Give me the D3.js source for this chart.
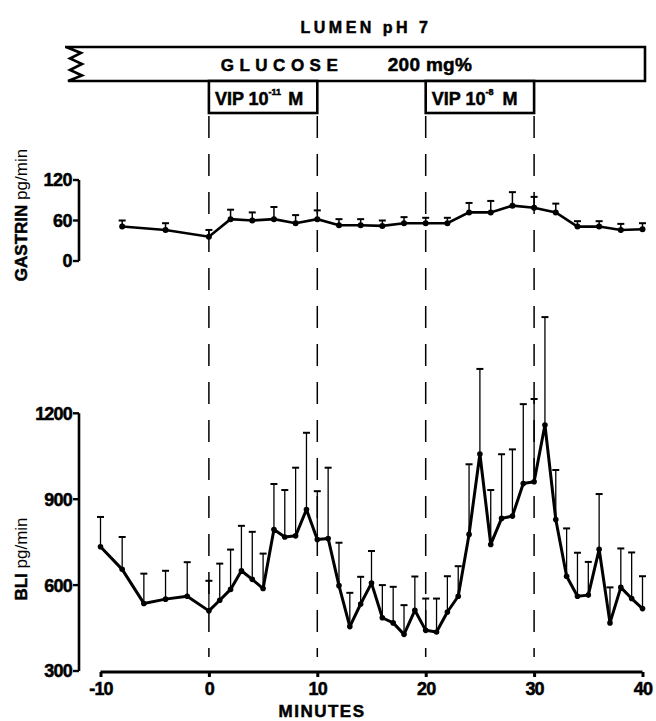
<!DOCTYPE html>
<html><head><meta charset="utf-8">
<script src="https://cdn.jsdelivr.net/npm/d3@7"></script>
<style>
html,body{margin:0;padding:0;background:#fff;}
svg{display:block;font-family:"Liberation Sans",Arial,sans-serif;}
.bold{font-weight:bold;stroke:#000;stroke-width:0.5px;}
</style></head>
<body>
<svg id="c" width="656" height="721"></svg>
<script>
// ---- data ----
const gastrinMinutes = [-8,-4,0,2,4,6,8,10,12,14,16,18,20,22,24,26,28,30,32,34,36,38,40];
const gastrinMean    = [51,46,36,62,60,62,56,62,53,53,52,56,56,56,72,72,82,79,72,51,51,46,47];
const gastrinSEM     = [9,10,10,14,12,18,12,13,9,9,8,9,8,8,14,17,20,16,13,8,8,9,9];

const bliMinutes = [-10,-8,-6,-4,-2,0,1,2,3,4,5,6,7,8,9,10,11,12,13,14,15,16,17,18,19,20,21,22,23,24,25,26,27,28,29,30,31,32,33,34,35,36,37,38,39,40];
const bliMean = [734,655,536,551,561,510,547,585,650,620,588,794,768,772,864,759,763,598,455,534,607,486,468,428,512,442,436,506,561,777,1058,742,833,841,955,961,1159,829,631,561,565,725,468,592,553,518];
const bliSEM  = [104,113,104,99,119,105,128,139,157,166,122,159,164,238,268,169,247,150,118,95,112,114,126,102,118,111,117,125,105,245,297,190,224,233,277,289,377,173,167,152,116,193,124,136,161,113];

const xTicks = [-10,0,10,20,30,40];
const bliTicks = [300,600,900,1200];
const gastrinTicks = [0,60,120];
const vipPeriods = [{start:0,end:10,exp:"-11"},{start:20,end:30,exp:"-8"}];
const markerMinutes = [0,10,20,30];

// ---- scales ----
const svg = d3.select("#c");
const x = d3.scaleLinear().domain([-10,40]).range([100.5,642.5]);
const yB = d3.scaleLinear().domain([300,1200]).range([671,413.3]);
const yG = d3.scaleLinear().domain([0,120]).range([261,180]);
const axisX = 79;

// ---- header ----
svg.append("text").attr("class","bold").attr("x",366).attr("y",33).attr("text-anchor","middle")
  .attr("font-size",16).attr("letter-spacing",3.5).text("LUMEN pH 7");

const barTop = 47, barBot = 81, barRight = 645;
svg.append("path")
  .attr("d",`M65,${barTop} L${barRight},${barTop} L${barRight},${barBot} L68,${barBot} L82,75.5 L70,70 L82,64 L70,58.5 L81,53 L66,${barTop}`)
  .attr("fill","none").attr("stroke","#000").attr("stroke-width",2.6).attr("stroke-linejoin","miter");
svg.append("text").attr("class","bold").attr("x",282).attr("y",70.5).attr("text-anchor","middle")
  .attr("font-size",17).attr("letter-spacing",5.5).text("GLUCOSE");
svg.append("text").attr("class","bold").attr("x",430).attr("y",70.5).attr("text-anchor","middle")
  .attr("font-size",19).attr("letter-spacing",0.3).text("200 mg%");

vipPeriods.forEach(p=>{
  const x0 = x(p.start), x1 = x(p.end);
  svg.append("rect").attr("x",x0).attr("y",barBot).attr("width",x1-x0).attr("height",32)
    .attr("fill","#fff").attr("stroke","#000").attr("stroke-width",2.6);
  const t = svg.append("text").attr("class","bold").attr("x",x0+6).attr("y",105).attr("font-size",18);
  t.append("tspan").text("VIP 10");
  t.append("tspan").attr("font-size",9).attr("dy",-10).text(p.exp);
  t.append("tspan").attr("dy",10).attr("dx",p.exp.length>2?7:9).text("M");
});

// ---- dashed markers ----
markerMinutes.forEach(m=>{
  svg.append("line").attr("x1",x(m)).attr("x2",x(m)).attr("y1",116).attr("y2",657)
    .attr("stroke","#000").attr("stroke-width",1.5).attr("stroke-dasharray","22,16");
});

// ---- gastrin panel ----
const gAxis = svg.append("g");
gAxis.append("line").attr("x1",axisX).attr("x2",axisX).attr("y1",yG(120)).attr("y2",yG(0))
  .attr("stroke","#000").attr("stroke-width",2.6);
gastrinTicks.forEach(v=>{
  gAxis.append("line").attr("x1",axisX-6).attr("x2",axisX).attr("y1",yG(v)).attr("y2",yG(v))
    .attr("stroke","#000").attr("stroke-width",2.4);
  gAxis.append("text").attr("class","bold").attr("x",axisX-7).attr("y",yG(v)).attr("dy","0.36em").attr("text-anchor","end")
    .attr("font-size",18).attr("letter-spacing",-0.5).text(v);
});
const gl = svg.append("text").attr("transform","translate(27,215) rotate(-90)").attr("text-anchor","middle")
  .attr("font-size",17);
gl.append("tspan").attr("class","bold").text("GASTRIN");
gl.append("tspan").text(" pg/min");

const gData = gastrinMinutes.map((m,i)=>({m, v:gastrinMean[i], e:gastrinSEM[i]}));
const gErr = svg.append("g");
gData.forEach(d=>{
  gErr.append("line").attr("x1",x(d.m)).attr("x2",x(d.m)).attr("y1",yG(d.v)).attr("y2",yG(d.v+d.e))
    .attr("stroke","#000").attr("stroke-width",1.5);
  gErr.append("line").attr("x1",x(d.m)-3.5).attr("x2",x(d.m)+3.5).attr("y1",yG(d.v+d.e)).attr("y2",yG(d.v+d.e))
    .attr("stroke","#000").attr("stroke-width",2);
});
svg.append("path").datum(gData)
  .attr("d",d3.line().x(d=>x(d.m)).y(d=>yG(d.v)))
  .attr("fill","none").attr("stroke","#000").attr("stroke-width",2.6);
svg.append("g").selectAll("circle").data(gData).join("circle")
  .attr("cx",d=>x(d.m)).attr("cy",d=>yG(d.v)).attr("r",3).attr("fill","#000");

// ---- BLI panel ----
const bAxis = svg.append("g");
bAxis.append("line").attr("x1",axisX).attr("x2",axisX).attr("y1",yB(1200)).attr("y2",yB(300))
  .attr("stroke","#000").attr("stroke-width",2.6);
bliTicks.forEach(v=>{
  bAxis.append("line").attr("x1",axisX-6).attr("x2",axisX).attr("y1",yB(v)).attr("y2",yB(v))
    .attr("stroke","#000").attr("stroke-width",2.4);
  bAxis.append("text").attr("class","bold").attr("x",axisX-7).attr("y",yB(v)).attr("dy","0.36em").attr("text-anchor","end")
    .attr("font-size",18).attr("letter-spacing",-0.8).text(v);
});
const bl = svg.append("text").attr("transform","translate(27,559) rotate(-90)").attr("text-anchor","middle")
  .attr("font-size",17);
bl.append("tspan").attr("class","bold").text("BLI");
bl.append("tspan").text(" pg/min");

const bData = bliMinutes.map((m,i)=>({m, v:bliMean[i], e:bliSEM[i]}));
const bErr = svg.append("g");
bData.forEach(d=>{
  bErr.append("line").attr("x1",x(d.m)).attr("x2",x(d.m)).attr("y1",yB(d.v)).attr("y2",yB(d.v+d.e))
    .attr("stroke","#000").attr("stroke-width",1.3);
  bErr.append("line").attr("x1",x(d.m)-3.5).attr("x2",x(d.m)+3.5).attr("y1",yB(d.v+d.e)).attr("y2",yB(d.v+d.e))
    .attr("stroke","#000").attr("stroke-width",2);
});
svg.append("path").datum(bData)
  .attr("d",d3.line().x(d=>x(d.m)).y(d=>yB(d.v)))
  .attr("fill","none").attr("stroke","#000").attr("stroke-width",3).attr("stroke-linejoin","round");
svg.append("g").selectAll("circle").data(bData).join("circle")
  .attr("cx",d=>x(d.m)).attr("cy",d=>yB(d.v)).attr("r",2.8).attr("fill","#000");

// ---- x axis ----
const xAxisY = 672;
const xa = svg.append("g").attr("transform",`translate(0,${xAxisY})`)
  .call(d3.axisBottom(x).tickValues(xTicks).tickSize(5).tickPadding(5).tickFormat(d => String(d)));
xa.select(".domain").attr("d",`M${x(-10)},0H${x(40)}`).attr("stroke-width",3);
xa.selectAll(".tick line").attr("stroke-width",3);
xa.selectAll(".tick text").attr("class","bold").attr("font-family","Liberation Sans, Arial, sans-serif")
  .attr("font-size",18).attr("letter-spacing",-0.8).attr("fill","#000");
svg.append("text").attr("class","bold").attr("x",322).attr("y",717).attr("text-anchor","middle")
  .attr("font-size",17).attr("letter-spacing",1.5).text("MINUTES");
</script>
</body></html>
